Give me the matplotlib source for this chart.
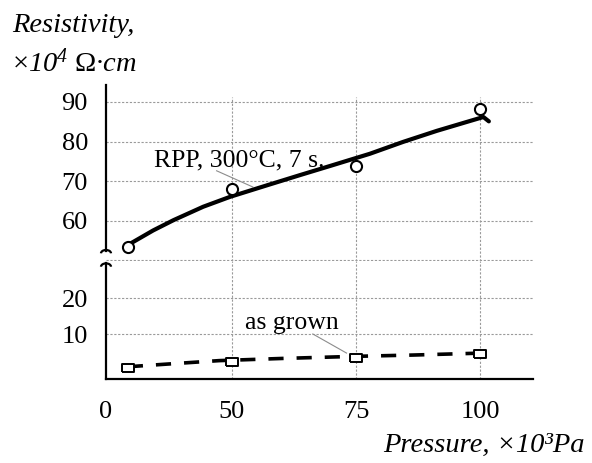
import numpy as np
import matplotlib
matplotlib.use('Agg')
import matplotlib.pyplot as plt
from matplotlib.patches import Arc

plt.rcParams['font.family'] = 'Liberation Serif'
plt.rcParams['mathtext.fontset'] = 'custom'
plt.rcParams['mathtext.rm'] = 'Liberation Serif'
plt.rcParams['mathtext.it'] = 'Liberation Serif:italic'
plt.rcParams['mathtext.sf'] = 'Liberation Serif:italic'

# data
pressure = [29, 50, 75, 100]
rpp_points = [53.4, 67.9, 73.8, 88.3]
grown_points = [0.6, 2.2, 3.4, 4.6]

# hand-drawn trend curves
rpp_curve_x = [29.4, 34.1, 38.2, 44.2, 49.6, 57.0, 63.7, 70.0, 77.8, 84.5,
               91.3, 98.0, 100.7, 101.8]
rpp_curve_y = [54.1, 57.5, 60.1, 63.5, 66.0, 68.9, 71.5, 73.9, 76.9, 79.9,
               82.7, 85.2, 86.2, 85.1]
grown_curve_x = [29.0, 36.5, 41.9, 47.4, 60.0, 75.2, 86.5, 100.6]
grown_curve_y = [1.0, 1.7, 2.2, 2.7, 3.3, 3.9, 4.25, 4.8]

xticks = [24.6, 50, 75, 100]
xtick_labels = ['0', '50', '75', '100']
upper_ticks = [50, 60, 70, 80, 90]
upper_labels = ['', '60', '70', '80', '90']
lower_ticks = [10, 20]
lower_labels = ['10', '20']

fs = 19
title_fs = 20.5
grid_kw = dict(color='#9a9a9a', lw=0.8, linestyle=(0, (2, 1.5)))

fig = plt.figure(figsize=(5.92, 4.63), dpi=100)
W, H = 592, 463
left, right = 106 / W, 533 / W
ax_lo = fig.add_axes([left, 1 - 379 / H, right - left, (379 - 260.5) / H])
ax_up = fig.add_axes([left, 1 - 260.5 / H, right - left, (260.5 - 85) / H])

for ax in (ax_lo, ax_up):
    ax.set_xlim(24.6, 110.7)
    ax.patch.set_alpha(0)
    for s in ['top', 'right']:
        ax.spines[s].set_visible(False)
    ax.spines['left'].set_linewidth(1.6)
    ax.tick_params(length=0, labelsize=fs)

ax_up.set_ylim(49.9, 94.3)
ax_lo.set_ylim(-2.4, 30.5)

# grid
for y in upper_ticks:
    ax_up.axhline(y, **grid_kw, zorder=0)
for y in lower_ticks:
    ax_lo.axhline(y, **grid_kw, zorder=0)
for x in xticks[1:]:
    ax_lo.axvline(x, **grid_kw, zorder=0)
    ax_up.axvline(x, ymax=(260.5 - 97) / 175.5, **grid_kw, zorder=0)

# upper part
ax_up.spines['bottom'].set_visible(False)
ax_up.spines['left'].set_bounds(52.4, 94.3)
ax_up.set_xticks([])
ax_up.set_yticks(upper_ticks)
ax_up.set_yticklabels(upper_labels)
ax_up.tick_params(axis='y', pad=13)
ax_up.plot(rpp_curve_x, rpp_curve_y, color='black', lw=3.0,
           solid_capstyle='round', solid_joinstyle='round', zorder=3)
ax_up.plot(pressure, rpp_points, 'o', ms=8, mfc='white', mec='black',
           mew=1.5, zorder=4)
ax_up.plot([46.9, 54.2], [72.6, 68.5], color='#8c8c8c', lw=0.8, zorder=2)
ax_up.text(34.3, 73.8, 'RPP, 300°C, 7 s.', fontsize=18.5, va='baseline')

# lower part
ax_lo.spines['left'].set_bounds(-2.4, 29.7)
ax_lo.spines['bottom'].set_linewidth(1.6)
ax_lo.set_xticks(xticks)
ax_lo.set_xticklabels(xtick_labels)
ax_lo.tick_params(axis='x', pad=16)
ax_lo.set_yticks(lower_ticks)
ax_lo.set_yticklabels(lower_labels)
ax_lo.tick_params(axis='y', pad=13)
ax_lo.plot(grown_curve_x, grown_curve_y, color='black', lw=2.6,
           dashes=(4.2, 3.6), zorder=3)
rect = [(-1.6, -1), (1.6, -1), (1.6, 1), (-1.6, 1), (-1.6, -1)]
ax_lo.plot(pressure, grown_points, linestyle='none', marker=rect, ms=8.5,
           mfc='white', mec='black', mew=1.4, zorder=4)
ax_lo.plot([66.3, 73.1], [10.1, 4.8], color='#8c8c8c', lw=0.8, zorder=2)
ax_lo.text(52.6, 11.4, 'as grown', fontsize=18.5, va='baseline')

# axis break marks
for cy in (253.3, 266.7):
    fig.add_artist(Arc((106 / W, 1 - cy / H), 10 / W, 6.6 / H,
                       theta1=0, theta2=180, lw=1.6, color='black',
                       transform=fig.transFigure))

# axis titles
fig.text(11.7 / W, 1 - 31.7 / H, 'Resistivity,', fontsize=title_fs,
         style='italic', va='baseline')
fig.text(11.7 / W, 1 - 71.7 / H, r'$\mathrm{×}\mathsf{10^{4}}\ \mathrm{Ω}\mathsf{·cm}$',
         fontsize=title_fs, va='baseline')
fig.text(585 / W, 1 - 451.7 / H, 'Pressure, ×10³Pa', fontsize=title_fs,
         style='italic', ha='right', va='baseline')

fig.savefig('out.png', dpi=100)
